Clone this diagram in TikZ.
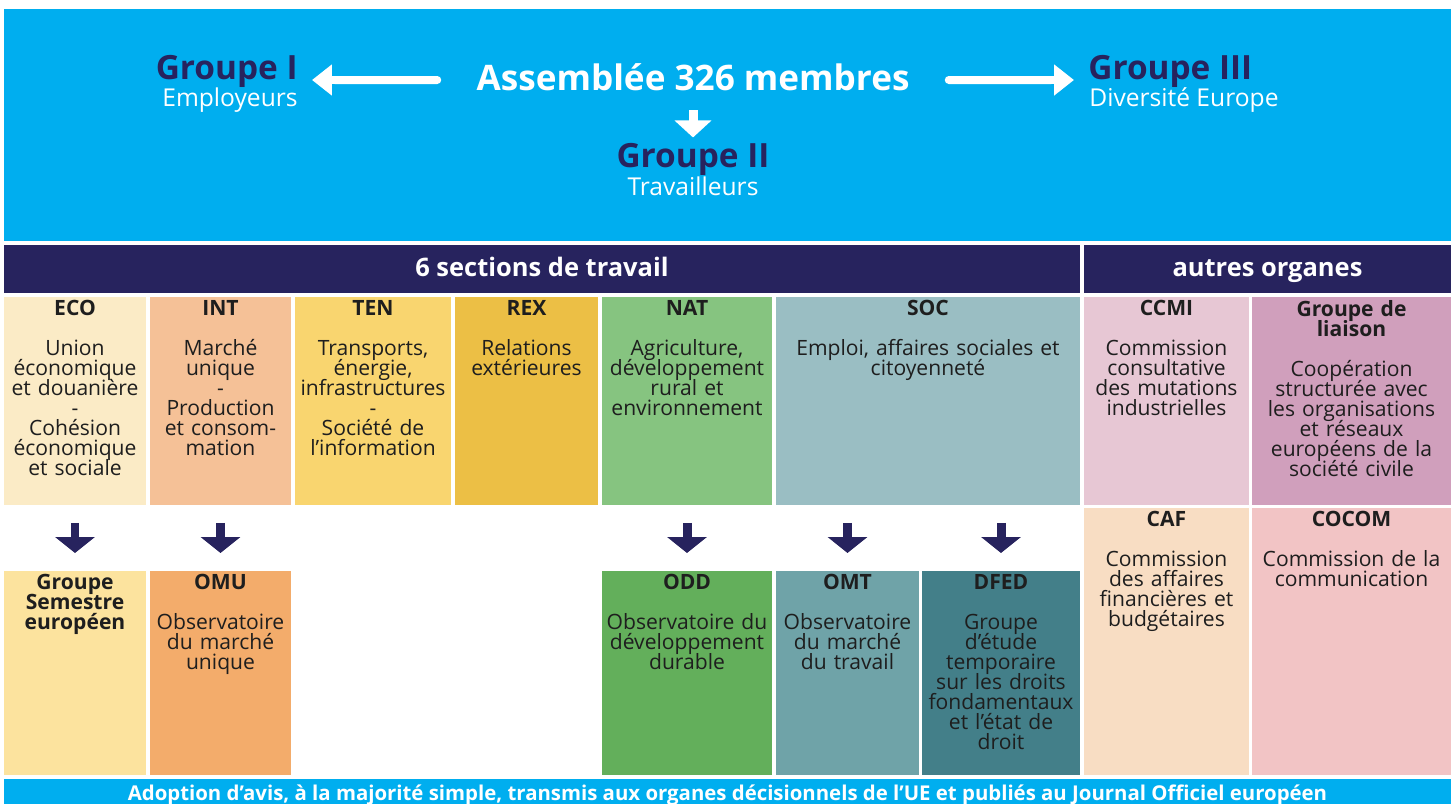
\documentclass[tikz,border=0pt]{standalone}
\usepackage{fontspec}
\setmainfont{Open Sans}
\usetikzlibrary{arrows.meta}

\definecolor{sky}{HTML}{00AEEF}
\definecolor{navy}{HTML}{27235E}
\definecolor{ink}{HTML}{1E1E1E}
\definecolor{ecoc}{HTML}{FBEBC6}
\definecolor{gsec}{HTML}{FCE39E}
\definecolor{intc}{HTML}{F5C197}
\definecolor{omuc}{HTML}{F3AC6B}
\definecolor{tenc}{HTML}{F9D56F}
\definecolor{rexc}{HTML}{ECBF45}
\definecolor{natc}{HTML}{86C480}
\definecolor{oddc}{HTML}{63AF5B}
\definecolor{socc}{HTML}{9ABEC3}
\definecolor{omtc}{HTML}{6FA3A8}
\definecolor{dfedc}{HTML}{437F89}
\definecolor{ccmic}{HTML}{E7C7D4}
\definecolor{liaic}{HTML}{D09FBC}
\definecolor{cafc}{HTML}{F8DDC3}
\definecolor{cocomc}{HTML}{F2C4C5}

\newlength{\pxu}
\setlength{\pxu}{0.02cm}
\newcommand{\cellfont}{\fontsize{12}{11.4}\selectfont\lineskiplimit=-50pt\relax}

\begin{document}
\begin{tikzpicture}[
		x=0.02cm, y=-0.02cm,
		box/.style={anchor=north west, inner sep=0pt, outer sep=0pt},
		wh/.style 2 args={minimum width=#1\pxu, minimum height=#2\pxu},
		boxtxt/.style={anchor=north, align=center, inner xsep=0pt, inner ysep=1.5pt, text=ink, font=\cellfont, text width=#1\pxu},
		bar/.style={text=white, text height=10.5pt, text depth=2.5pt, font=\fontsize{14.5}{16}\selectfont\bfseries},
		grp/.style={inner sep=0pt, text=navy, font=\fontsize{19}{22}\selectfont\bfseries},
		sub/.style={inner sep=0pt, text=white, font=\fontsize{14}{17}\selectfont},
		whitearrow/.style={white, line width=0.16cm, line cap=round, -{Triangle[length=0.4cm, width=0.6cm]}, shorten <=0.78cm, shorten >=0.28cm},
		whitedown/.style={white, line width=0.18cm, -{Triangle[length=0.34cm, width=0.72cm]}, shorten <=0.38cm, shorten >=0.12cm},
		navyarrow/.style={navy, line width=0.18cm, -{Triangle[length=0.32cm, width=0.78cm]}, shorten <=0.36cm, shorten >=0.36cm}
		]
		\useasboundingbox (0,0) rectangle (1451,804);
		\fill[sky] (4,9) rectangle (1451,241);
		
		% assemblee et groupes
		\node[grp, text=white, anchor=base, text height=12.5pt, text depth=0pt, font=\fontsize{20}{22}\selectfont\bfseries] (asm) at (693,91) {Assemblée 326 membres};
		\node[grp, anchor=base east] (g1) at (298,80) {Groupe I};
		\node[sub, anchor=base east] (g1sub) at (298,107) {Employeurs};
		\node[grp, anchor=base west] (g3) at (1088,80) {Groupe III};
		\node[sub, anchor=base west] (g3sub) at (1089,107) {Diversité Europe};
		\node[grp, anchor=base] (g2) at (693,168) {Groupe II};
		\node[sub, anchor=base] (g2sub) at (693,196) {Travailleurs};
		\path[whitearrow]
		(asm.west) edge (g1.base east)
		(asm.east) edge (g3.base west)
		;
		\path[whitedown] (asm.south) edge (g2.north);
		
		% bandeaux
		\node[box, bar, wh={1076}{48}, fill=navy] (sechead) at (4,245) {6 sections de travail};
		\node[box, bar, wh={367}{48}, fill=navy] (orghead) at (1084,245) {autres organes};
		
		% sections
		\node[box, wh={142}{208}, fill=ecoc] (eco) at (4,297) {};
		\node[boxtxt=138] (ecotxt) at (eco.north) {\textbf{ECO}\\[11.4pt]Union\\économique\\et douanière\\-\\Cohésion\\économique\\et sociale};
		\node[box, wh={141}{208}, fill=intc] (int) at (150,297) {};
		\node[boxtxt=137] (inttxt) at (int.north) {\textbf{INT}\\[11.4pt]Marché\\unique\\-\\Production\\et consom-\\mation};
		\node[box, wh={156}{208}, fill=tenc] (ten) at (295,297) {};
		\node[boxtxt=154] (tentxt) at (ten.north) {\textbf{TEN}\\[11.4pt]Transports,\\énergie,\\infrastructures\\-\\Société de\\l’information};
		\node[box, wh={143}{208}, fill=rexc] (rex) at (455,297) {};
		\node[boxtxt=139] (rextxt) at (rex.north) {\textbf{REX}\\[11.4pt]Relations\\extérieures};
		\node[box, wh={170}{208}, fill=natc] (nat) at (602,297) {};
		\node[boxtxt=166] (nattxt) at (nat.north) {\textbf{NAT}\\[11.4pt]Agriculture,\\développement\\rural et\\environnement};
		\node[box, wh={304}{208}, fill=socc] (soc) at (776,297) {};
		\node[boxtxt=298] (soctxt) at (soc.north) {\textbf{SOC}\\[11.4pt]Emploi, affaires sociales et\\citoyenneté};
		
		% autres organes
		\node[box, wh={165}{208}, fill=ccmic] (ccmi) at (1084,297) {};
		\node[boxtxt=161] (ccmitxt) at (ccmi.north) {\textbf{CCMI}\\[11.4pt]Commission\\consultative\\des mutations\\industrielles};
		\node[box, wh={199}{208}, fill=liaic] (liai) at (1252,297) {};
		\node[boxtxt=197] (liaitxt) at (liai.north) {\textbf{Groupe de}\\\textbf{liaison}\\[11.4pt]Coopération\\structurée avec\\les organisations\\et réseaux\\européens de la\\société civile};
		\node[box, wh={165}{267}, fill=cafc] (caf) at (1084,508) {};
		\node[boxtxt=161] (caftxt) at (caf.north) {\textbf{CAF}\\[11.4pt]Commission\\des affaires\\financières et\\budgétaires};
		\node[box, wh={199}{267}, fill=cocomc] (cocom) at (1252,508) {};
		\node[boxtxt=197] (cocomtxt) at (cocom.north) {\textbf{COCOM}\\[11.4pt]Commission de la\\communication};
		
		% observatoires
		\node[box, wh={142}{204}, fill=gsec] (gse) at (4,571) {};
		\node[boxtxt=138] (gsetxt) at (gse.north) {\textbf{Groupe}\\\textbf{Semestre}\\\textbf{européen}};
		\node[box, wh={141}{204}, fill=omuc] (omu) at (150,571) {};
		\node[boxtxt=137] (omutxt) at (omu.north) {\textbf{OMU}\\[11.4pt]Observatoire\\du marché\\unique};
		\node[box, wh={170}{204}, fill=oddc] (odd) at (602,571) {};
		\node[boxtxt=168] (oddtxt) at (odd.north) {\textbf{ODD}\\[11.4pt]Observatoire du\\développement\\durable};
		\node[box, wh={143}{204}, fill=omtc] (omt) at (776,571) {};
		\node[boxtxt=141] (omttxt) at (omt.north) {\textbf{OMT}\\[11.4pt]Observatoire\\du marché\\du travail};
		\node[box, wh={158}{204}, fill=dfedc] (dfed) at (922,571) {};
		\node[boxtxt=156] (dfedtxt) at (dfed.north) {\textbf{DFED}\\[11.4pt]Groupe\\d’étude\\temporaire\\sur les droits\\fondamentaux\\et l’état de\\droit};
		
		\path[navyarrow]
		(eco) edge (gse)
		(int) edge (omu)
		(nat) edge (odd)
		(soc.south -| omt.north) edge (omt.north)
		(soc.south -| dfed.north) edge (dfed.north)
		;
		
		\node[box, wh={1447}{33}, fill=sky, text=white, font=\fontsize{11.6}{13}\selectfont\bfseries] (adopt) at (4,779) {Adoption d’avis, à la majorité simple, transmis aux organes décisionnels de l’UE et publiés au Journal Officiel européen};
		
		\end{tikzpicture}
\end{document}
